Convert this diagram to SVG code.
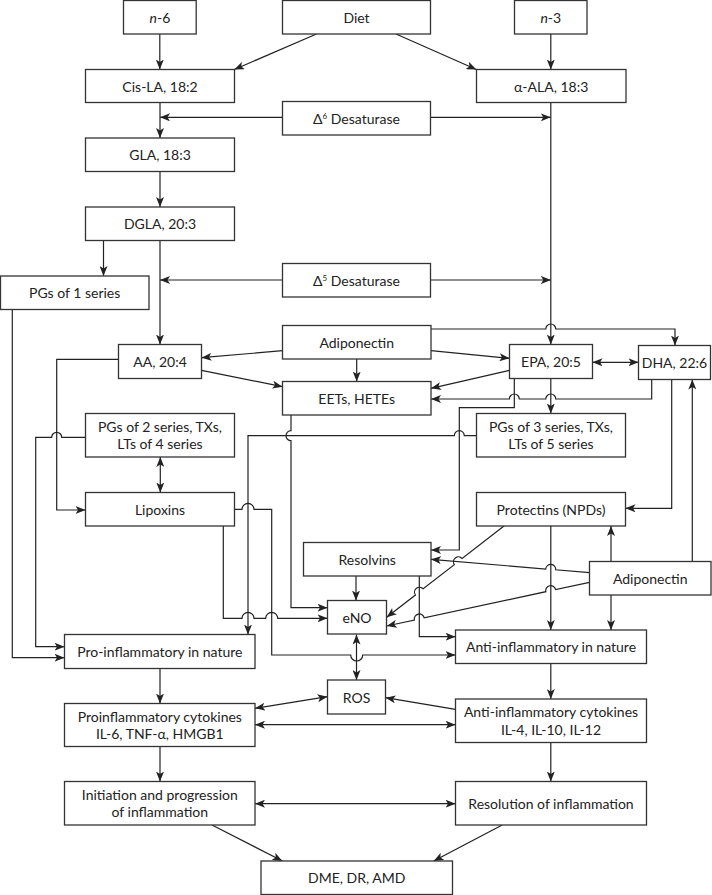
<svg xmlns="http://www.w3.org/2000/svg" width="712" height="895" viewBox="0 0 712 895">
<style>
.b rect{fill:#fff;stroke:#333;stroke-width:1.3}
text{font-family:Lato,"Open Sans","DejaVu Sans",sans-serif;font-size:14px;fill:#222;text-anchor:middle}
.c path{fill:none;stroke:#222;stroke-width:1.2}
.a{marker-end:url(#ah)}
.d{marker-start:url(#ah);marker-end:url(#ah)}
.sup{font-size:8px}
</style>
<defs>
<marker id="ah" viewBox="0 0 10 8" refX="10" refY="4" markerWidth="10" markerHeight="8" markerUnits="userSpaceOnUse" orient="auto-start-reverse"><path d="M0,0 L10,4 L0,8 L2.5,4 z" fill="#222"/></marker>
</defs>
<rect width="712" height="895" fill="#fff"/>
<g class="c" id="connectors">
<path class="a" d="M159.8,34 V69.5"/>
<path class="a" d="M316.5,34 L234.3,69.5"/>
<path class="a" d="M396,34 L476.4,69.5"/>
<path class="a" d="M550.8,34 V69.5"/>
<path class="a" d="M160,102.5 V138"/>
<path class="a" d="M282.5,117.3 H160"/>
<path class="a" d="M430.5,117.3 H550.8"/>
<path class="a" d="M160,171.5 V207"/>
<path class="a" d="M103.5,240.5 V276"/>
<path class="a" d="M160,240.5 V344.5"/>
<path class="a" d="M282.5,280 H160"/>
<path class="a" d="M430.5,280 H550.8"/>
<path class="a" d="M550.8,102.5 V344.5"/>
<path class="a" d="M431,329 H545.8 A5,5 0 0 1 555.8,329 H675 V345.5"/>
<path class="a" d="M282.5,350.7 L201.5,357.7"/>
<path class="a" d="M356.7,359 V381.5"/>
<path class="a" d="M201.5,370.3 L282.5,386.7"/>
<path class="a" d="M431,350.7 L509.5,358.3"/>
<path class="a" d="M509.5,370.3 L431,388.3"/>
<path class="d" d="M592.5,362.3 H638.5"/>
<path class="a" d="M651.7,379.5 V399 H555.8 A5,5 0 0 0 545.8,399 H519.3 A5,5 0 0 0 509.3,399 H431"/>
<path class="a" d="M550.8,378.5 V413.5"/>
<path class="a" d="M514.3,378.5 V407.7 H459.3 V550 H431"/>
<path class="a" d="M118.5,359.3 H56.7 V510 H85.5"/>
<path class="a" d="M85.5,437.3 H61.7 A5,5 0 0 0 51.7,437.3 H35.7 V646.7 H64.5"/>
<path class="a" d="M12.3,309.5 V657.7 H64.5"/>
<path class="d" d="M160.3,457 V492.5"/>
<path class="a" d="M476.5,435.7 H464.3 A5,5 0 0 0 454.3,435.7 H248 V634.5"/>
<path class="a" d="M291,415 V430.7 A5,5 0 0 0 291,440.7 V607.7 H327.5"/>
<path class="a" d="M234.5,509.3 H242 A6,6 0 0 1 254,509.3 H271.7 V655 H350.7 A6,6 0 0 0 362.7,655 H455.5"/>
<path class="a" d="M223.3,525.7 V618.3 H242 A6,6 0 0 1 254,618.3 H265.7 A6,6 0 0 1 277.7,618.3 H327.5"/>
<path class="a" d="M671.7,379.5 V508.3 H625.5"/>
<path class="a" d="M692.3,561.5 V379.5"/>
<path class="a" d="M611,561.5 V526"/>
<path class="a" d="M611,595 V630"/>
<path class="a" d="M550.8,526 V630"/>
<path class="a" d="M589.5,572.7 L555.7,569.8 A5,5 0 0 0 545.7,569 L431,559.3"/>
<path class="a" d="M589.5,582.3 L555.6,589.6 A5,5 0 0 0 545.8,591.7 L424.2,617.9 A5,5 0 0 0 414.4,620 L386.7,626"/>
<path class="a" d="M504.3,525.7 L462.1,558.5 A5,5 0 0 0 454.3,564.7 L423.2,588.8 A5,5 0 0 0 415.4,595 L386.7,617.3"/>
<path class="a" d="M356,576 V600.5"/>
<path class="a" d="M419.3,576 V636.7 H455.5"/>
<path class="d" d="M356.5,634.5 V680"/>
<path class="a" d="M160,668.5 V703.5"/>
<path class="a" d="M550.8,663.5 V699"/>
<path class="d" d="M255,708.3 L327.5,696.7"/>
<path class="a" d="M455.5,709.3 L385.5,697.7"/>
<path class="d" d="M255,724.7 H455.5"/>
<path class="a" d="M160,746.5 V781.5"/>
<path class="a" d="M550.8,742.5 V781.5"/>
<path class="d" d="M255,803.7 H455.5"/>
<path class="a" d="M212,825 L282.4,861"/>
<path class="a" d="M502.2,825 L433.7,861"/>
</g>
<g class="b" id="n6"><rect x="123.5" y="0.5" width="72.7" height="33.5"/><text x="159.9" y="22.5"><tspan font-style="italic">n</tspan>-6</text></g>
<g class="b" id="diet"><rect x="282.5" y="0.5" width="148" height="33.5"/><text x="356.5" y="22.5">Diet</text></g>
<g class="b" id="n3"><rect x="514.5" y="0.5" width="72.5" height="33.5"/><text x="550.8" y="22.5"><tspan font-style="italic">n</tspan>-3</text></g>
<g class="b" id="cisla"><rect x="85.5" y="69.5" width="149" height="33"/><text x="160" y="91.5">Cis-LA, 18:2</text></g>
<g class="b" id="ala"><rect x="476.5" y="69.5" width="149.5" height="33"/><text x="551.2" y="91.5">α-ALA, 18:3</text></g>
<g class="b" id="d6"><rect x="282.5" y="101.5" width="148" height="33.5"/><text x="356.5" y="123.7">Δ<tspan class="sup" dy="-5">6</tspan><tspan dy="5"> Desaturase</tspan></text></g>
<g class="b" id="gla"><rect x="85.5" y="138" width="149" height="33.5"/><text x="160" y="160.3">GLA, 18:3</text></g>
<g class="b" id="dgla"><rect x="85.5" y="207" width="149" height="33.5"/><text x="160" y="229.3">DGLA, 20:3</text></g>
<g class="b" id="pg1"><rect x="0.5" y="276" width="148.5" height="33.5"/><text x="74.7" y="298.3">PGs of 1 series</text></g>
<g class="b" id="d5"><rect x="282.5" y="263.5" width="148" height="33.5"/><text x="356.5" y="285.7">Δ<tspan class="sup" dy="-5">5</tspan><tspan dy="5"> Desaturase</tspan></text></g>
<g class="b" id="adipo1"><rect x="282.5" y="325.5" width="148.5" height="33.5"/><text x="356.7" y="347.7">Adiponectin</text></g>
<g class="b" id="aa"><rect x="118.5" y="344.5" width="83" height="34"/><text x="160" y="367">AA, 20:4</text></g>
<g class="b" id="epa"><rect x="509.5" y="344.5" width="83" height="34"/><text x="551" y="367">EPA, 20:5</text></g>
<g class="b" id="dha"><rect x="638.5" y="345.5" width="72" height="34"/><text x="674.5" y="368">DHA, 22:6</text></g>
<g class="b" id="eets"><rect x="282.5" y="381.5" width="148.5" height="33.5"/><text x="356.7" y="403.7">EETs, HETEs</text></g>
<g class="b" id="pg2"><rect x="85.5" y="413.5" width="149" height="43.5"/><text x="160" y="431.7">PGs of 2 series, TXs,</text><text x="160" y="449">LTs of 4 series</text></g>
<g class="b" id="pg3"><rect x="476.5" y="413.5" width="149" height="43.5"/><text x="551" y="431.7">PGs of 3 series, TXs,</text><text x="551" y="449">LTs of 5 series</text></g>
<g class="b" id="lipox"><rect x="85.5" y="492.5" width="149" height="33.5"/><text x="160" y="514.7">Lipoxins</text></g>
<g class="b" id="prot"><rect x="476.5" y="492.5" width="149" height="33.5"/><text x="551" y="514.7">Protectins (NPDs)</text></g>
<g class="b" id="resolv"><rect x="303.5" y="542.5" width="127.5" height="33.5"/><text x="367.2" y="564.7">Resolvins</text></g>
<g class="b" id="adipo2"><rect x="589.5" y="561.5" width="121.5" height="33.5"/><text x="650.2" y="583.7">Adiponectin</text></g>
<g class="b" id="eno"><rect x="327.5" y="600.5" width="59" height="33.5"/><text x="357" y="622.7">eNO</text></g>
<g class="b" id="proinf"><rect x="64.5" y="634.5" width="190.5" height="34"/><text x="159.8" y="657">Pro-inflammatory in nature</text></g>
<g class="b" id="antiinf"><rect x="455.5" y="630" width="191" height="33.5"/><text x="551" y="652.3">Anti-inflammatory in nature</text></g>
<g class="b" id="ros"><rect x="327.5" y="680" width="58" height="34"/><text x="356.5" y="702.5">ROS</text></g>
<g class="b" id="procyt"><rect x="64.5" y="703.5" width="190.5" height="43"/><text x="159.8" y="721.5">Proinflammatory cytokines</text><text x="159.8" y="738.8">IL-6, TNF-α, HMGB1</text></g>
<g class="b" id="anticyt"><rect x="455.5" y="699" width="191" height="43.5"/><text x="551" y="717.2">Anti-inflammatory cytokines</text><text x="551" y="734.5">IL-4, IL-10, IL-12</text></g>
<g class="b" id="init"><rect x="64.5" y="781.5" width="190.5" height="43.5"/><text x="159.8" y="799.7">Initiation and progression</text><text x="159.8" y="817">of inflammation</text></g>
<g class="b" id="resol"><rect x="455.5" y="781.5" width="191" height="43.5"/><text x="551" y="808.7">Resolution of inflammation</text></g>
<g class="b" id="dme"><rect x="261" y="861" width="191.5" height="33.5"/><text x="356.7" y="883.2">DME, DR, AMD</text></g>
</svg>
